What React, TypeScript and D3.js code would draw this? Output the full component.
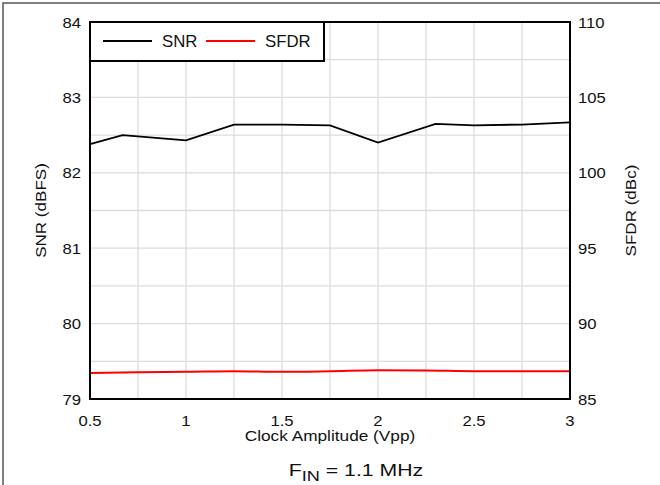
import React from "react";
import * as d3 from "d3";

const xValues = [0.5, 0.67, 1, 1.25, 1.5, 1.75, 2, 2.3, 2.5, 2.75, 3];
const snrValues = [82.38, 82.5, 82.43, 82.64, 82.64, 82.63, 82.4, 82.65, 82.63, 82.64, 82.67];
const sfdrX = [0.5, 0.75, 1, 1.25, 1.5, 1.75, 2, 2.25, 2.5, 2.75, 3];
const sfdrValues = [86.72, 86.77, 86.8, 86.84, 86.8, 86.84, 86.9, 86.89, 86.84, 86.84, 86.84];
const xTicks = [0.5, 1, 1.5, 2, 2.5, 3];
const leftTicks = [79, 80, 81, 82, 83, 84];
const rightTicks = [85, 90, 95, 100, 105, 110];
const seriesNames = ["SNR", "SFDR"];

type TProps = {
  x: number;
  y: number;
  size: number;
  sx?: number;
  rot?: number;
  anchor?: "start" | "middle" | "end";
  children: React.ReactNode;
};

function T({ x, y, size, sx = 1, rot = 0, anchor = "start", children }: TProps) {
  return (
    <text
      transform={`translate(${x},${y}) rotate(${rot}) scale(${sx},1)`}
      fontSize={size}
      textAnchor={anchor}
      fill="#111"
    >
      {children}
    </text>
  );
}

export default function App() {
  const W = 660, H = 485;
  const L = 90, R = 570, T0 = 22, B = 399;
  const x = d3.scaleLinear().domain([0.5, 3]).range([L, R]);
  const yL = d3.scaleLinear().domain([79, 84]).range([B, T0]);
  const yR = d3.scaleLinear().domain([85, 110]).range([B, T0]);
  const xGrid = d3.range(0.5, 3.001, 0.25);
  const yGrid = d3.range(79, 84.001, 0.5);
  const snrLine = d3.line<number>().x((_, i) => x(xValues[i])).y((d) => yL(d))(snrValues) || "";
  const sfdrLine = d3.line<number>().x((_, i) => x(sfdrX[i])).y((d) => yR(d)).curve(d3.curveMonotoneX)(sfdrValues) || "";
  const font = "'Liberation Sans', Arial, sans-serif";
  const tickSize = 14.5;
  const tickSx = 1.15;
  return (
    <svg width={W} height={H} style={{ position: "absolute", left: 0, top: 0 }} fontFamily={font}>
      <rect x={0} y={0} width={W} height={H} fill="#fff" />
      <rect x={3} y={3} width={W + 20} height={H + 20} fill="none" stroke="#555" strokeWidth={1.5} />
      {xGrid.map((v) => (
        <line key={"gx" + v} x1={x(v)} x2={x(v)} y1={T0} y2={B} stroke="#dcdcdc" strokeWidth={1.3} />
      ))}
      {yGrid.map((v) => (
        <line key={"gy" + v} x1={L} x2={R} y1={yL(v)} y2={yL(v)} stroke="#dcdcdc" strokeWidth={1.3} />
      ))}
      <path d={sfdrLine} fill="none" stroke="#ff0000" strokeWidth={2} />
      <path d={snrLine} fill="none" stroke="#000" strokeWidth={1.8} />
      <rect x={L} y={T0} width={R - L} height={B - T0} fill="none" stroke="#000" strokeWidth={2} />
      {/* legend */}
      <rect x={L} y={T0} width={234} height={39} fill="#fff" stroke="#000" strokeWidth={2} />
      <line x1={103} x2={152} y1={41} y2={41} stroke="#000" strokeWidth={1.8} />
      <T x={162} y={46.5} size={16} sx={1.05}>{seriesNames[0]}</T>
      <line x1={206} x2={255} y1={41} y2={41} stroke="#ff0000" strokeWidth={1.8} />
      <T x={265} y={46.5} size={16} sx={1.05}>{seriesNames[1]}</T>
      {leftTicks.map((v) => (
        <T key={"l" + v} x={81} y={yL(v) + 5.5} size={tickSize} sx={tickSx} anchor="end">{v}</T>
      ))}
      {rightTicks.map((v) => (
        <T key={"r" + v} x={578} y={yR(v) + 5.5} size={tickSize} sx={tickSx}>{v}</T>
      ))}
      {xTicks.map((v) => (
        <T key={"x" + v} x={x(v)} y={425.5} size={tickSize} sx={tickSx} anchor="middle">{v}</T>
      ))}
      <T x={330} y={440.5} size={15} sx={1.15} anchor="middle">Clock Amplitude (Vpp)</T>
      <T x={45.5} y={210.5} size={15.5} sx={1.1} rot={-90} anchor="middle">SNR (dBFS)</T>
      <T x={635.5} y={210.5} size={15.5} sx={1.1} rot={-90} anchor="middle">SFDR (dBc)</T>
      <T x={356} y={476} size={17} sx={1.25} anchor="middle">
        F<tspan fontSize={14.5} dy={5}>IN</tspan><tspan dy={-5}> = 1.1 MHz</tspan>
      </T>
    </svg>
  );
}
